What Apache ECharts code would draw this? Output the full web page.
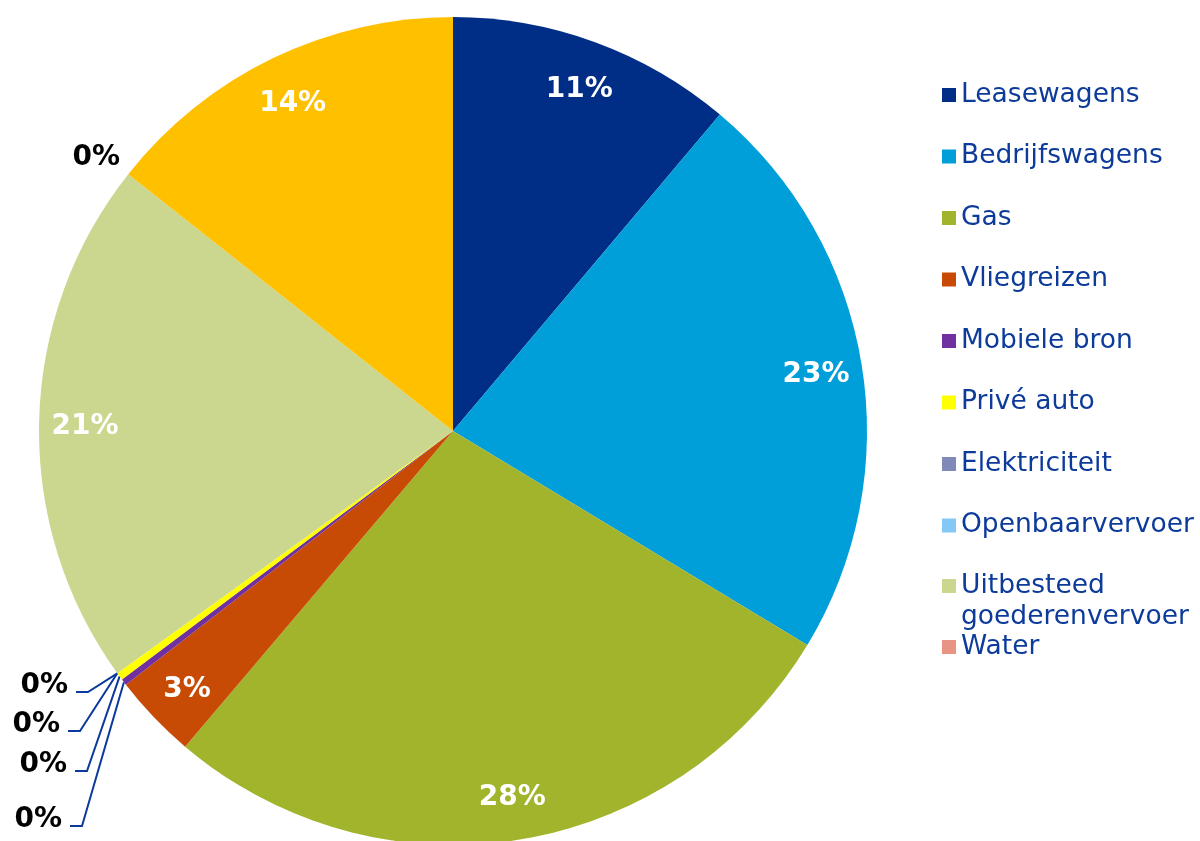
<!doctype html>
<html lang="nl">
<head>
<meta charset="UTF-8">
<title>CO2-uitstoot per bron</title>
<style>
  html, body { margin: 0; padding: 0; background: #fff; }
  #main { width: 1200px; height: 841px; }
</style>
</head>
<body>
<div id="main"></div>
<script src="https://cdn.jsdelivr.net/npm/echarts@6/dist/echarts.min.js"></script>
<script>
var bronnen = ['Leasewagens', 'Bedrijfswagens', 'Gas', 'Vliegreizen', 'Mobiele bron', 'Privé auto',
  'Elektriciteit', 'Openbaarvervoer', 'Uitbesteed goederenvervoer', 'Water', 'Overig'];
var aandeel = [11.15, 22.5, 27.55, 3.3, 0.25, 0.3, 0, 0, 20.6, 0, 14.35];
var kleuren = ['#002d86', '#009fda', '#a2b42c', '#c84b05', '#7030a0', '#ffff00',
  '#8189b9', '#85c8f5', '#cbd68e', '#e89484', '#ffc000'];

var chart = echarts.init(document.getElementById('main'));

var cx = 453, cy = 431, R = 414;
var totaal = aandeel.reduce(function (a, b) { return a + b; }, 0);

// middelste hoek per stuk, met de klok mee vanaf boven
var midHoek = [];
var acc = 0;
aandeel.forEach(function (v) {
  midHoek.push((acc + v / 2) / totaal * 2 * Math.PI);
  acc += v;
});

// labels buiten de taart: index -> [rechterrand x, midden y]
var buitenLabels = { 4: [62, 820], 5: [67, 765], 6: [60, 725], 7: [68, 686] };

var data = bronnen.map(function (naam, i) {
  var item = { name: naam, value: aandeel[i], itemStyle: { color: kleuren[i] } };
  if (buitenLabels[i] || i === 9) {
    item.label = { color: '#000' };
  }
  if (buitenLabels[i]) {
    item.labelLine = { show: true, lineStyle: { color: '#0b3a9c', width: 2 } };
  }
  return item;
});

var legendBasis = {
  orient: 'vertical',
  left: 942,
  padding: 0,
  icon: 'rect',
  itemWidth: 14,
  itemHeight: 14,
  itemGap: 30.5,
  selectedMode: false,
  itemStyle: { borderWidth: 0 },
  textStyle: { fontFamily: 'DejaVu Sans', fontSize: 26.5, lineHeight: 31, color: '#0d3b9a' }
};

var option = {
  animation: false,
  backgroundColor: '#fff',
  legend: [
    Object.assign({}, legendBasis, { top: 79.5, data: bronnen.slice(0, 8) }),
    Object.assign({}, legendBasis, {
      top: 539.5,
      data: [bronnen[8]],
      // lege eerste regel zodat 'Uitbesteed' naast het icoon staat
      formatter: function () { return '\nUitbesteed\ngoederenvervoer'; }
    }),
    Object.assign({}, legendBasis, { top: 631.5, data: [bronnen[9]] })
  ],
  series: [{
    type: 'pie',
    center: [cx, cy],
    radius: R,
    startAngle: 90,
    clockwise: true,
    avoidLabelOverlap: false,
    data: data,
    label: {
      show: true,
      position: 'outside',
      color: '#fff',
      fontFamily: 'DejaVu Sans',
      fontWeight: 'bold',
      fontSize: 28,
      formatter: function (p) { return Math.round(p.value / totaal * 100) + '%'; }
    },
    labelLine: { show: false },
    labelLayout: function (p) {
      var i = p.dataIndex;
      var a = midHoek[i];
      if (buitenLabels[i]) {
        var pos = buitenLabels[i];
        var ex = cx + R * Math.sin(a), ey = cy - R * Math.cos(a);
        var ly = pos[1] + 6;
        return {
          x: pos[0], y: pos[1], align: 'right', verticalAlign: 'middle',
          labelLinePoints: [[ex, ey], [pos[0] + 20, ly], [pos[0] + 8, ly]]
        };
      }
      if (i === 9) {
        return { x: 120, y: 158, align: 'right', verticalAlign: 'middle' };
      }
      return {
        x: cx + 368 * Math.sin(a),
        y: cy - 368 * Math.cos(a) + 4,
        align: 'center',
        verticalAlign: 'middle'
      };
    },
    emphasis: { disabled: true }
  }]
};

chart.setOption(option);
</script>
</body>
</html>
